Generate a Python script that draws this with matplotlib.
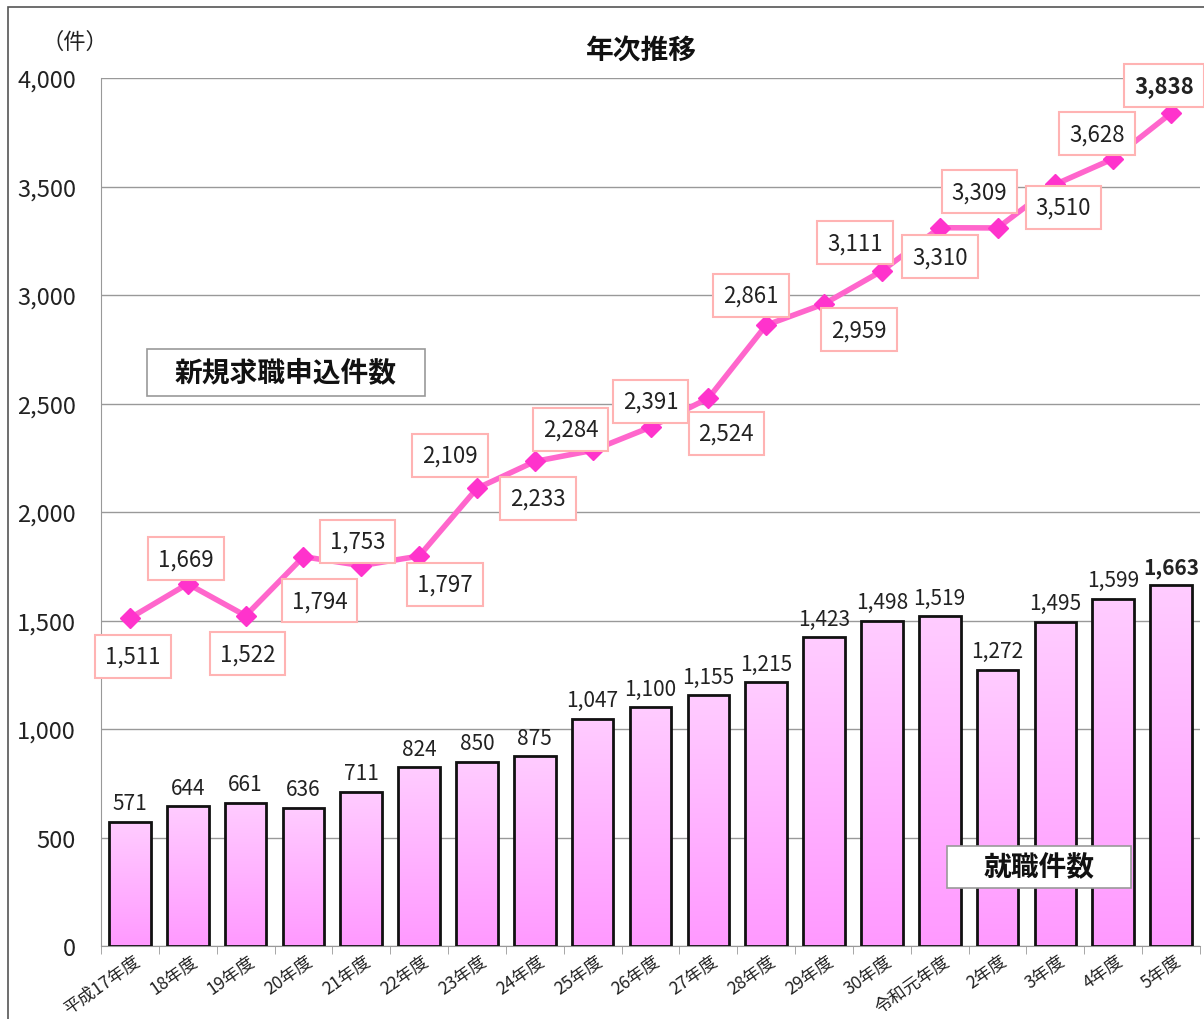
import numpy as np
import matplotlib.pyplot as plt
from matplotlib.colors import LinearSegmentedColormap
from matplotlib.patches import Rectangle

plt.rcParams['font.family'] = ['Noto Sans CJK JP', 'DejaVu Sans']

categories = ['平成17年度', '18年度', '19年度', '20年度', '21年度', '22年度', '23年度',
              '24年度', '25年度', '26年度', '27年度', '28年度', '29年度', '30年度',
              '令和元年度', '2年度', '3年度', '4年度', '5年度']
applications = [1511, 1669, 1522, 1794, 1753, 1797, 2109, 2233, 2284, 2391, 2524,
                2861, 2959, 3111, 3310, 3309, 3510, 3628, 3838]
placements = [571, 644, 661, 636, 711, 824, 850, 875, 1047, 1100, 1155, 1215, 1423,
              1498, 1519, 1272, 1495, 1599, 1663]

# label offsets for the line series, in pixels (dx, dy)
label_off = [(3, -38), (-2, 25), (2, -38), (16, -44), (-4, 24), (26, -28), (-27, 33),
             (3, -37), (-22, 21), (0, 26), (18, -35), (-15, 30), (35, -26), (-27, 28),
             (0, -29), (-18, 36), (8, -23), (-16, 25), (-7, 28)]

W, H = 1204, 1020
fig = plt.figure(figsize=(W / 100, H / 100), dpi=100)


def box(x0, y0, x1, y1, color, lw=1.2):
    # rectangle in pixel coords measured from the top-left corner
    fig.patches.append(Rectangle((x0 / W, 1 - y1 / H), (x1 - x0) / W, (y1 - y0) / H,
                                 transform=fig.transFigure, facecolor='white',
                                 edgecolor=color, lw=lw, zorder=10))


fig.patches.append(Rectangle((8 / W, -0.01), 1.0, 1 - 8 / H + 0.01,
                             transform=fig.transFigure, fill=False,
                             edgecolor='#555555', lw=1.2))
ax = fig.add_axes([101 / W, 1 - 947 / H, 1099 / W, 868 / H])

x = np.arange(len(categories))
cmap = LinearSegmentedColormap.from_list('pk', ['#ff99ff', '#ffccff'])
grad = np.linspace(0, 1, 256).reshape(-1, 1)
bars = ax.bar(x, placements, width=0.72, facecolor='none', edgecolor='#111111',
              linewidth=2, zorder=3)
for b in bars:
    x0, y0, w, h = b.get_x(), b.get_y(), b.get_width(), b.get_height()
    ax.imshow(grad, cmap=cmap, aspect='auto', origin='lower',
              extent=[x0, x0 + w, y0, y0 + h], zorder=2)
for i, v in enumerate(placements):
    last = i == len(placements) - 1
    ax.text(i, v + 35, f'{v:,}', ha='center', va='bottom', fontsize=15,
            fontweight='bold' if last else 'normal', color='#222222', zorder=5)

ax.plot(x, applications, color='#ff66cc', lw=4, marker='D', markersize=10,
        markerfacecolor='#ff33cc', markeredgecolor='#ff33cc', zorder=6)
for i, v in enumerate(applications):
    last = i == len(applications) - 1
    dx, dy = label_off[i]
    ax.annotate(f'{v:,}', (i, v), xytext=(dx * 0.72, dy * 0.72),
                textcoords='offset points', ha='center', va='center',
                fontsize=16, fontweight='bold' if last else 'normal',
                color='#222222', zorder=7,
                bbox=dict(boxstyle='square,pad=0.45', facecolor='white',
                          edgecolor='#ffb3b3', lw=1.5))

ax.set_xlim(-0.5, len(categories) - 0.5)
ax.set_ylim(0, 4000)
ax.set_yticks(np.arange(0, 4001, 500))
ax.set_yticklabels([f'{t:,}' for t in range(0, 4001, 500)], fontsize=17, color='#222222')
ax.tick_params(axis='y', length=0, pad=18)
ax.grid(axis='y', color='#999999', lw=1, zorder=0)
ax.set_axisbelow(True)
ax.set_xticks(x + 0.05)
ax.set_xticklabels(categories, rotation=35, ha='right', rotation_mode='anchor',
                   fontsize=12.5, color='#222222')
ax.set_xticks(np.arange(-0.5, len(categories)), minor=True)
ax.tick_params(axis='x', which='major', length=0, pad=4)
ax.tick_params(axis='x', which='minor', length=6, color='#999999')
for s in ['top', 'right']:
    ax.spines[s].set_visible(False)
for s in ['left', 'bottom']:
    ax.spines[s].set_color('#999999')

fig.text(641 / W, 1 - 52 / H, '年次推移', ha='center', va='center',
         fontsize=20, fontweight='bold', color='#111111')
fig.text(75 / W, 1 - 42 / H, '（件）', ha='center', va='center',
         fontsize=16, color='#222222')

box(147, 350, 425, 397, '#999999')
fig.text(286 / W, 1 - 373 / H, '新規求職申込件数', ha='center', va='center',
         fontsize=20, fontweight='bold', color='#111111', zorder=11)
box(947, 847, 1131, 889, '#999999')
fig.text(1039 / W, 1 - 868 / H, '就職件数', ha='center', va='center',
         fontsize=20, fontweight='bold', color='#111111', zorder=11)

fig.savefig('out.png', dpi=100)
